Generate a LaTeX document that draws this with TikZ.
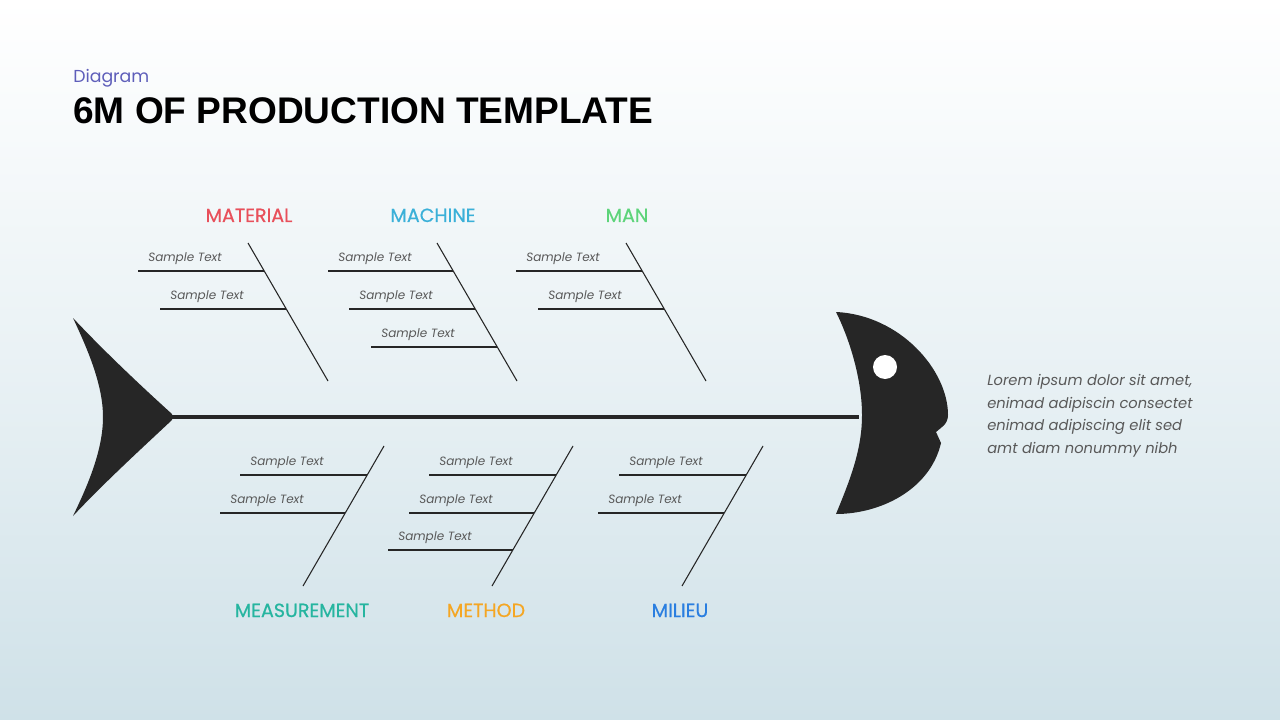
\documentclass[tikz,border=0pt]{standalone}
\usepackage{fontspec}
\setmainfont{Poppins}
\newfontfamily\titlefont{Liberation Sans}
\newfontfamily\medfont[FakeBold=0.6]{Poppins}
\begin{document}
\begin{tikzpicture}[x=0.75pt,y=-0.75pt,
  bone/.style={draw=black!85,line width=0.8pt},
  st/.style={font=\itshape\fontsize{9}{11}\selectfont,text=black!65,anchor=base west,inner sep=0},
  cat/.style={font=\medfont\fontsize{14.3}{16}\selectfont,anchor=base,inner sep=0},
  fish/.style={fill=black!85,draw=none}]
\definecolor{cmat}{HTML}{E8505B}\definecolor{cmac}{HTML}{3AB0D8}\definecolor{cman}{HTML}{5DD47A}
\definecolor{cmea}{HTML}{26B5A0}\definecolor{cmet}{HTML}{F5A623}\definecolor{cmil}{HTML}{2A7EE0}
\definecolor{bgb}{HTML}{CFE1E8}
\shade[top color=white,bottom color=bgb,middle color=white!55!bgb] (0,0) rectangle (1280,720);
\useasboundingbox (0,0) rectangle (1280,720);
\node[anchor=base west,inner sep=0,text=blue!40!gray!90,font=\fontsize{13}{15}\selectfont] (sub) at (73,83) {Diagram};
\node[anchor=base west,inner sep=0,font=\titlefont\fontsize{27.8}{31}\selectfont\bfseries] (title) at (73,124) {6M OF PRODUCTION TEMPLATE};
% tail
\path[fish] (73,318) .. controls (105,352) and (140,385) .. (172,414) -- (172,420) .. controls (140,450) and (105,482) .. (73,516) .. controls (88,485) and (103,450) .. (103,417) .. controls (103,385) and (88,350) .. (73,318) -- cycle;
% head
\path[fish] (836,312) .. controls (900,315) and (948,370) .. (948,415) .. controls (948,425) and (940,428) .. (936,432) -- (941,443) .. controls (930,490) and (880,514) .. (836,514) .. controls (850,480) and (862,450) .. (862,415) .. controls (862,380) and (850,340) .. (836,312) -- cycle;
\fill[white] (885,367) circle (12);
\node[inner sep=0] (head) at (860,417) {};
\node[inner sep=0] (tail) at (168,417) {};
\draw[black!85,line width=3.2pt] (tail) -- (head);
\foreach \nm/\x in {mat/248,mac/437,man/626}{
  \coordinate (\nm a) at (\x,243); \coordinate (\nm b) at (\x+80,381);
  \draw[bone] (\nm a) -- (\nm b);}
\foreach \nm/\x in {mea/384,met/573,mil/763}{
  \coordinate (\nm a) at (\x,446); \coordinate (\nm b) at (\x-81,586);
  \draw[bone] (\nm a) -- (\nm b);}
\foreach \nm/\xs/\xe/\y in {m1/138/264/271, m2/160/286/309, c1/328/453/271, c2/349/475/309, c3/371/497/347, n1/516/642/271, n2/538/664/309,
  e1/240/367/475, e2/220/345/513, t1/429/556/475, t2/409/534/513, t3/388/513/550, l1/619/746/475, l2/598/724/513}{
  \coordinate (\nm s) at (\xs,\y); \coordinate (\nm e) at (\xe,\y);
  \draw[bone] (\nm s) -- (\nm e);
  \node[st] (\nm t) at (\xs+10,\y-10) {Sample Text};}
\node[cat,text=cmat] (lmat) at (249,222) {MATERIAL};
\node[cat,text=cmac] (lmac) at (433,222) {MACHINE};
\node[cat,text=cman] (lman) at (627,222) {MAN};
\node[cat,text=cmea] (lmea) at (302,617) {MEASUREMENT};
\node[cat,text=cmet] (lmet) at (486,617) {METHOD};
\node[cat,text=cmil] (lmil) at (680,617) {MILIEU};
\node[anchor=north west,inner sep=0,align=left,text=black!65,font=\itshape\fontsize{11}{17}\selectfont] (desc) at (987,374)
 {Lorem ipsum dolor sit amet,\\enimad adipiscin consectet\\enimad adipiscing elit sed\\amt diam nonummy nibh};
\end{tikzpicture}
\end{document}
